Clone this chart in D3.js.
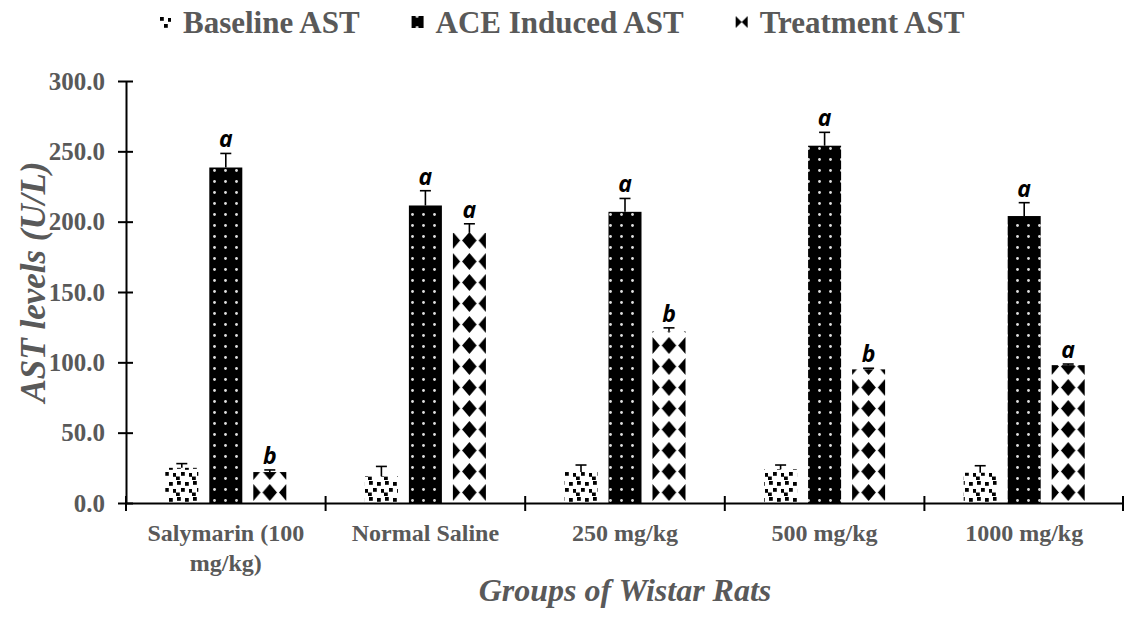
<!DOCTYPE html>
<html>
<head>
<meta charset="utf-8">
<script src="https://cdn.jsdelivr.net/npm/d3@7"></script>
<style>
body{margin:0;background:#fff;}
svg{display:block;}
</style>
</head>
<body>
<div id="chart"></div>
<script>

// data
var categories = ["Salymarin (100 mg/kg)", "Normal Saline", "250 mg/kg", "500 mg/kg", "1000 mg/kg"];
var seriesNames = ["Baseline AST", "ACE Induced AST", "Treatment AST"];
var baselineAST = [25, 19, 22, 24, 21.5];
var baselineErr = [3, 7, 5, 3, 5];
var aceAST = [238.5, 211.5, 207, 254, 204];
var aceErr = [10, 10.5, 9.5, 9.5, 9.5];
var treatmentAST = [22, 192, 122, 95, 98];
var treatmentErr = [1.5, 6.5, 2.5, 0.8, 0.8];
var aceLetters = ["a", "a", "a", "a", "a"];
var treatmentLetters = ["b", "a", "b", "b", "a"];
var yTicks = [0, 50, 100, 150, 200, 250, 300];

var width = 1124, height = 620;
var margin = {top: 81, right: 0, bottom: 117, left: 126};
var grey = "#595959";
var serif = "'Liberation Serif', 'Times New Roman', serif";

var svg = d3.select("#chart").append("svg")
    .attr("width", width)
    .attr("height", height);

// scales
var plotBottom = height - margin.bottom;
var x0 = d3.scaleBand().domain(categories).range([margin.left, width - margin.right]);
var x1 = d3.scaleBand().domain(seriesNames).range([-66, 66]).paddingInner(0.25).paddingOuter(0.125);
var y = d3.scaleLinear().domain([0, 300]).range([plotBottom, margin.top]);

// fill patterns
var defs = svg.append("defs");

var pBase = defs.append("pattern")
    .attr("id", "pat0").attr("patternUnits", "userSpaceOnUse")
    .attr("width", 16).attr("height", 16);
pBase.append("rect").attr("width", 16).attr("height", 16).attr("fill", "#fff");
[[1, 1], [9, 2], [5, 8], [13, 9], [0, 12.5]].forEach(function(p){
    pBase.append("rect").attr("x", p[0]).attr("y", p[1])
        .attr("width", 3.8).attr("height", 3.8).attr("fill", "#000");
});

var pAce = defs.append("pattern")
    .attr("id", "pat1").attr("patternUnits", "userSpaceOnUse")
    .attr("width", 11).attr("height", 11);
pAce.append("rect").attr("width", 11).attr("height", 11).attr("fill", "#000");
pAce.append("circle").attr("cx", 5.5).attr("cy", 5.5).attr("r", 1.4).attr("fill", "#e0e0e0");

// diamond pattern, one per bar so a diamond sits in the middle of each bar
function treatPattern(id, cx){
    var p = defs.append("pattern")
        .attr("id", id).attr("patternUnits", "userSpaceOnUse")
        .attr("x", cx - 8.25).attr("y", plotBottom)
        .attr("width", 16.5).attr("height", 21);
    p.append("rect").attr("width", 16.5).attr("height", 21).attr("fill", "#fff");
    p.append("path").attr("d", "M8.25,2 L15.5,10.5 L8.25,19 L1,10.5 Z").attr("fill", "#000");
}

var rows = categories.map(function(c, i){
    return [
        {cat: c, s: seriesNames[0], v: baselineAST[i], e: baselineErr[i], k: 0, i: i, letter: null},
        {cat: c, s: seriesNames[1], v: aceAST[i], e: aceErr[i], k: 1, i: i, letter: aceLetters[i]},
        {cat: c, s: seriesNames[2], v: treatmentAST[i], e: treatmentErr[i], k: 2, i: i, letter: treatmentLetters[i]}
    ];
});
var flat = d3.merge(rows);

function bx(d){ return x0(d.cat) + x0.bandwidth() / 2 + x1(d.s); }
function bc(d){ return bx(d) + x1.bandwidth() / 2; }

flat.forEach(function(d){
    if(d.k == 2) treatPattern("pat2-" + d.i, bc(d));
});

// bars
svg.append("g").selectAll("rect")
    .data(flat)
    .enter().append("rect")
    .attr("x", bx)
    .attr("y", function(d){ return y(d.v); })
    .attr("width", x1.bandwidth())
    .attr("height", function(d){ return y(0) - y(d.v); })
    .attr("fill", function(d){ return d.k == 2 ? "url(#pat2-" + d.i + ")" : "url(#pat" + d.k + ")"; });

// error bars (upper half)
var eb = svg.append("g").selectAll("g")
    .data(flat)
    .enter().append("g")
    .attr("stroke", "#000").attr("stroke-width", 1.6);
eb.append("line")
    .attr("x1", bc).attr("x2", bc)
    .attr("y1", function(d){ return y(d.v); })
    .attr("y2", function(d){ return y(d.v + d.e); });
eb.append("line")
    .attr("x1", function(d){ return bc(d) - 5.5; })
    .attr("x2", function(d){ return bc(d) + 5.5; })
    .attr("y1", function(d){ return y(d.v + d.e); })
    .attr("y2", function(d){ return y(d.v + d.e); });

// significance letters
svg.append("g").selectAll("text")
    .data(flat.filter(function(d){ return d.letter; }))
    .enter().append("text")
    .attr("x", bc)
    .attr("y", function(d){ return y(d.v + d.e) - 6; })
    .attr("text-anchor", "middle")
    .style("font-family", "'Open Sans', sans-serif")
    .style("font-weight", "bold")
    .style("font-style", "italic")
    .style("font-size", "23px")
    .text(function(d){ return d.letter; });

// y axis
var yAxis = svg.append("g")
    .attr("transform", "translate(" + margin.left + ",0)")
    .call(d3.axisLeft(y).tickValues(yTicks).tickFormat(d3.format(".1f")).tickSizeOuter(0).tickSizeInner(8));
yAxis.select(".domain").attr("stroke-width", 2);
yAxis.selectAll(".tick line").attr("x1", 7).attr("stroke-width", 2);
yAxis.selectAll(".tick text")
    .attr("x", -21)
    .style("font-family", serif).style("font-weight", "bold")
    .style("font-size", "25px").attr("fill", grey);

// x axis: labels under the groups, ticks between them
var xAxis = svg.append("g")
    .attr("transform", "translate(0," + plotBottom + ")")
    .call(d3.axisBottom(x0).tickSize(0).tickSizeOuter(0));
xAxis.select(".domain").attr("stroke-width", 2);
xAxis.selectAll(".tick text")
    .attr("y", 21)
    .style("font-family", serif).style("font-weight", "bold")
    .style("font-size", "24px").attr("fill", grey)
    .call(wrap, 165);

var bounds = categories.map(function(c){ return x0(c); }).concat([x0.range()[1] - 1]);
xAxis.selectAll(".sep")
    .data(bounds)
    .enter().append("line")
    .attr("class", "sep")
    .attr("x1", function(d){ return d; }).attr("x2", function(d){ return d; })
    .attr("y1", -7).attr("y2", 8)
    .attr("stroke", "#000").attr("stroke-width", 2);

function wrap(text, w){
    text.each(function(){
        var t = d3.select(this),
            words = t.text().split(/\s+/).reverse(),
            word, line = [], lineNo = 0,
            yy = t.attr("y"), dy = parseFloat(t.attr("dy")),
            tspan = t.text(null).append("tspan").attr("x", 0).attr("y", yy).attr("dy", dy + "em");
        while((word = words.pop())){
            line.push(word);
            tspan.text(line.join(" "));
            if(tspan.node().getComputedTextLength() > w && line.length > 1){
                line.pop();
                tspan.text(line.join(" "));
                line = [word];
                tspan = t.append("tspan").attr("x", 0).attr("y", yy)
                    .attr("dy", (++lineNo * 1.25 + dy) + "em").text(word);
            }
        }
    });
}

// axis titles
svg.append("text")
    .attr("transform", "translate(45," + ((margin.top + plotBottom) / 2 - 10) + ") rotate(-90)")
    .attr("text-anchor", "middle")
    .style("font-family", serif).style("font-weight", "bold").style("font-style", "italic")
    .style("font-size", "35px").attr("fill", grey)
    .text("AST levels (U/L)");

svg.append("text")
    .attr("x", (margin.left + width) / 2)
    .attr("y", 601)
    .attr("text-anchor", "middle")
    .style("font-family", serif).style("font-weight", "bold").style("font-style", "italic")
    .style("font-size", "32px").attr("fill", grey)
    .text("Groups of Wistar Rats");

// legend
var legPat = defs.append("pattern")
    .attr("id", "pat2-leg").attr("patternUnits", "objectBoundingBox")
    .attr("width", 1).attr("height", 1);
legPat.append("rect").attr("width", 12).attr("height", 12).attr("fill", "#fff");
legPat.append("path").attr("d", "M0,0 L6,6 L0,12 Z M12,0 L6,6 L12,12 Z").attr("fill", "#000");

var legend = svg.append("g").attr("class", "legend");
var lx = 159;
seriesNames.forEach(function(name, i){
    var item = legend.append("g").attr("transform", "translate(" + lx + ",0)");
    item.append("rect")
        .attr("x", 0).attr("y", 16).attr("width", 12).attr("height", 12)
        .attr("fill", i == 2 ? "url(#pat2-leg)" : "url(#pat" + i + ")");
    var t = item.append("text")
        .attr("x", 24).attr("y", 33)
        .style("font-family", serif).style("font-weight", "bold")
        .style("font-size", "31px").attr("fill", grey)
        .text(name);
    lx += 24 + t.node().getComputedTextLength() + 52;
});

</script>
</body>
</html>
